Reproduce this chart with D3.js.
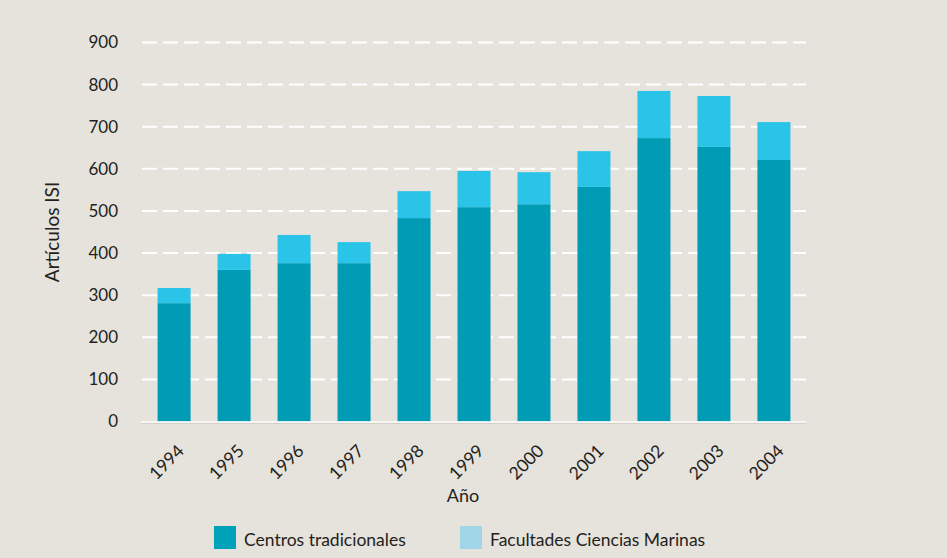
<!DOCTYPE html>
<html>
<head>
<meta charset="utf-8">
<script src="https://cdn.jsdelivr.net/npm/d3@7"></script>
<style>
  body { margin: 0; background: #e6e2dc; }
  text { font-family: Lato, "Open Sans", sans-serif; fill: #231f20; }
</style>
</head>
<body>
<div id="chart"></div>
<script>
// data
var years = ["1994", "1995", "1996", "1997", "1998", "1999", "2000", "2001", "2002", "2003", "2004"];
var centros = [281, 360, 376, 376, 483, 509, 516, 557, 673, 652, 621];
var facultades = [36, 38, 67, 50, 64, 86, 76, 85, 112, 121, 90];
var yTicks = [0, 100, 200, 300, 400, 500, 600, 700, 800, 900];
var seriesNames = ["Centros tradicionales", "Facultades Ciencias Marinas"];

var W = 947, H = 558;
var colors = { dark: "#009bb5", light: "#2bc4e9", legendLight: "#a0d6e8", legendDark: "#00a2b9" };

var svg = d3.select("#chart").append("svg")
    .attr("width", W)
    .attr("height", H);

svg.append("rect")
    .attr("width", W)
    .attr("height", H)
    .attr("fill", "#e6e2dc");

// scales
var x = d3.scaleBand()
    .domain(years)
    .range([142, 806])
    .paddingInner(0.45)
    .paddingOuter(0.26);
var y = d3.scaleLinear()
    .domain([0, 900])
    .range([421.5, 42.5]);

// stack the two series
var rows = years.map(function (yr, i) {
    return { year: yr, centros: centros[i], facultades: facultades[i] };
});
var stacked = d3.stack().keys(["centros", "facultades"])(rows);

// dashed gridlines
svg.append("g")
    .selectAll("line")
    .data(yTicks.filter(function (d) { return d > 0; }))
    .enter().append("line")
    .attr("x1", 142)
    .attr("x2", 806)
    .attr("y1", function (d) { return y(d); })
    .attr("y2", function (d) { return y(d); })
    .attr("stroke", "#ffffff")
    .attr("stroke-width", 2)
    .attr("stroke-dasharray", "15,6");

// y tick labels
svg.append("g")
    .selectAll("text")
    .data(yTicks)
    .enter().append("text")
    .attr("x", 118)
    .attr("y", function (d) { return y(d); })
    .attr("dy", "0.35em")
    .attr("text-anchor", "end")
    .style("font-size", "17px")
    .text(function (d) { return d; });

// bars
svg.append("g")
    .selectAll("g")
    .data(stacked)
    .enter().append("g")
    .attr("fill", function (d, i) { return i === 0 ? colors.dark : colors.light; })
    .selectAll("rect")
    .data(function (d) { return d; })
    .enter().append("rect")
    .attr("x", function (d) { return x(d.data.year); })
    .attr("width", x.bandwidth())
    .attr("y", function (d) { return y(d[1]); })
    .attr("height", function (d) { return y(d[0]) - y(d[1]); });

// baseline
svg.append("line")
    .attr("x1", 141).attr("x2", 806)
    .attr("y1", 423).attr("y2", 423)
    .attr("stroke", "#c4c1bc")
    .attr("stroke-width", 1);
svg.append("line")
    .attr("x1", 141).attr("x2", 806)
    .attr("y1", 422).attr("y2", 422)
    .attr("stroke", "#ffffff")
    .attr("stroke-width", 1.5);

// x labels, rotated
svg.append("g")
    .selectAll("text")
    .data(years)
    .enter().append("text")
    .attr("text-anchor", "end")
    .style("font-size", "17.5px")
    .attr("transform", function (d) {
        var cx = x(d) + x.bandwidth() / 2 + 11;
        return "translate(" + cx + ",452) rotate(-45)";
    })
    .text(function (d) { return d; });

// axis titles
svg.append("text")
    .attr("x", 463)
    .attr("y", 502)
    .attr("text-anchor", "middle")
    .style("font-size", "18px")
    .text("Año");

svg.append("text")
    .attr("transform", "translate(59,232) rotate(-90)")
    .attr("text-anchor", "middle")
    .style("font-size", "19px")
    .text("Artículos ISI");

// legend
var legendX = [214, 460];
var legendCol = [colors.legendDark, colors.legendLight];
var legend = svg.append("g")
    .selectAll("g")
    .data(seriesNames)
    .enter().append("g")
    .attr("transform", function (d, i) { return "translate(" + legendX[i] + ",526)"; });
legend.append("rect")
    .attr("width", 22)
    .attr("height", 23)
    .attr("fill", function (d, i) { return legendCol[i]; });
legend.append("text")
    .attr("x", 30)
    .attr("y", 20)
    .style("font-size", "17.5px")
    .text(function (d) { return d; });
</script>
</body>
</html>
